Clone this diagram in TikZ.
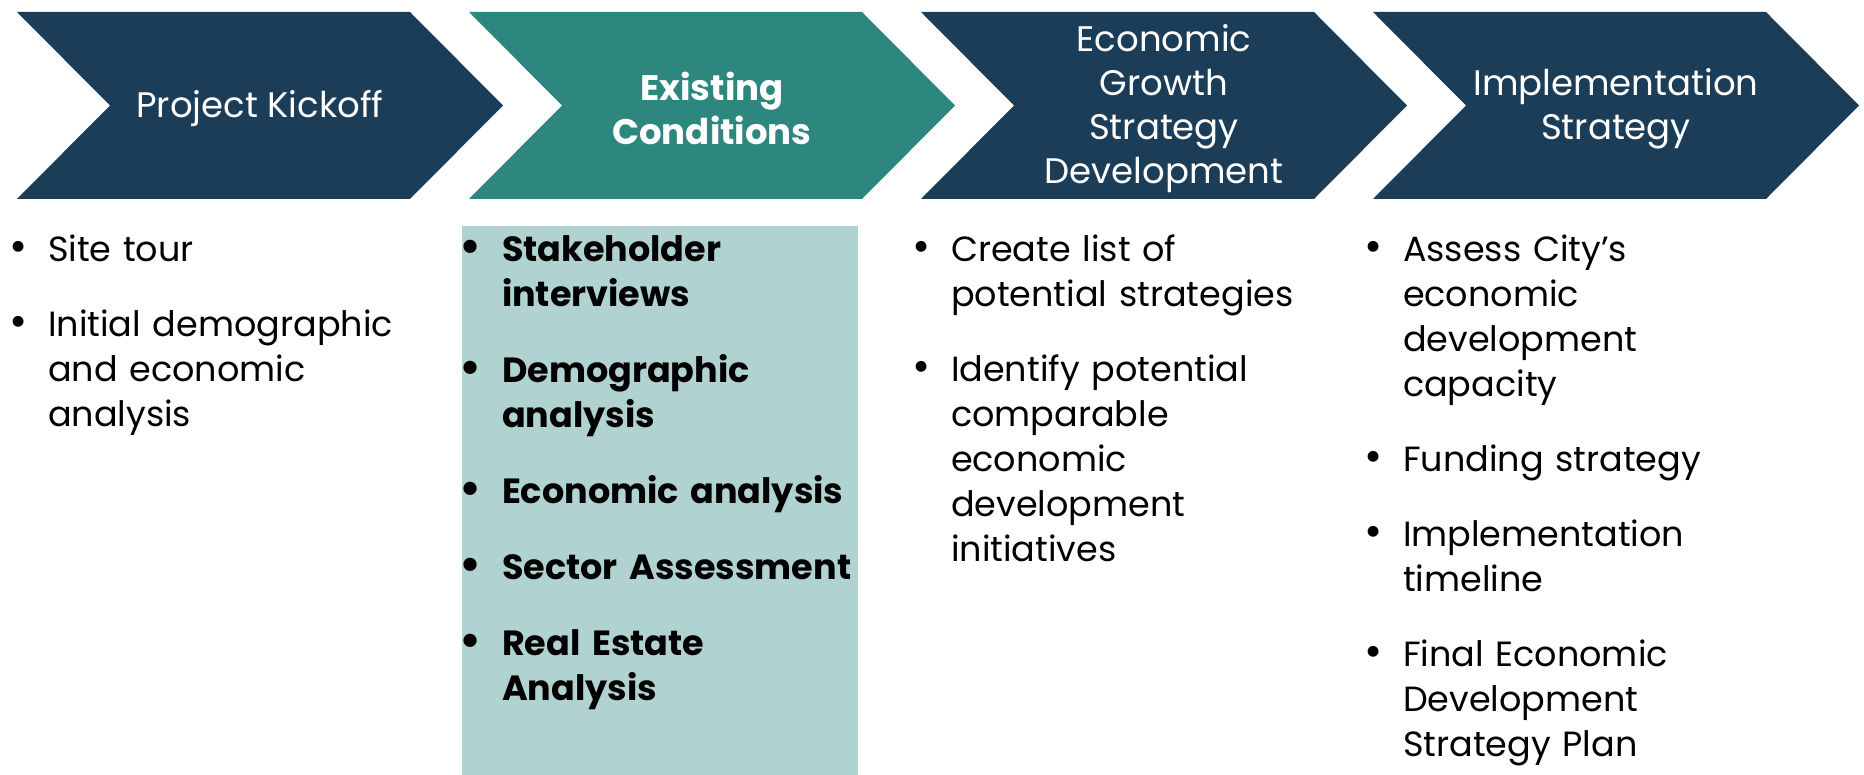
\documentclass[tikz,border=0pt]{standalone}
\usepackage{fontspec}
\setmainfont{Poppins}
\usepackage{xcolor}
\usepackage{tikz}
\usetikzlibrary{positioning}

\definecolor{navy}{HTML}{1C3D57}
\definecolor{phaseteal}{HTML}{2D877E}
\definecolor{paleteal}{HTML}{B0D2D0}

\newcommand{\itembul}{\leavevmode\llap{{\fontsize{44}{45}\selectfont\textbullet}\hspace{20pt}}}

\begin{document}
\begin{tikzpicture}[
        x=1pt, y=1pt,
        every node/.style={inner sep=0pt, outer sep=0pt},
        head/.style={text=white, align=center, font=\fontsize{35.5}{44}\selectfont},
        items/.style={anchor=base west, text width=420pt, align=left, font=\fontsize{35}{45}\selectfont}
    ]
    \useasboundingbox (0,0) rectangle (1864,-775);

    % chevrons
    \fill[navy] (17,-12) -- (410,-12) -- (503,-105.5) -- (410,-199) -- (17,-199) -- (110,-105.5) -- cycle;
    \fill[phaseteal] (469,-12) -- (862,-12) -- (955,-105.5) -- (862,-199) -- (469,-199) -- (562,-105.5) -- cycle;
    \fill[navy] (921,-12) -- (1314,-12) -- (1407,-105.5) -- (1314,-199) -- (921,-199) -- (1014,-105.5) -- cycle;
    \fill[navy] (1373,-12) -- (1766,-12) -- (1859,-105.5) -- (1766,-199) -- (1373,-199) -- (1466,-105.5) -- cycle;

    % highlighted column
    \fill[paleteal] (462,-226) rectangle (858,-775);

    \node[head] (P1) at (260,-108.5) {Project Kickoff};
    \node[head, font=\fontsize{35.5}{44}\selectfont\bfseries] (P2) at (712,-108.5) {Existing\\Conditions};
    \node[head] (P3) at (1164,-108.5) {Economic\\Growth\\Strategy\\Development};
    \node[head] (P4) at (1616,-108.5) {Implementation\\Strategy};

    % 1
    \node[items] (L1) at (48,-262)
        {\itembul Site tour\\[30pt]
         \itembul Initial demographic\\
         and economic\\
         analysis};

    % 2
    \node[items, font=\fontsize{35}{45}\selectfont\bfseries] (L2) at (502,-261.5)
        {\itembul Stakeholder\\
         interviews\\[31pt]
         \itembul Demographic\\
         analysis\\[31pt]
         \itembul Economic analysis\\[31pt]
         \itembul Sector Assessment\\[31pt]
         \itembul Real Estate\\
         Analysis};

    % 3
    \node[items] (L3) at (951,-262)
        {\itembul Create list of\\
         potential strategies\\[30pt]
         \itembul Identify potential\\
         comparable\\
         economic\\
         development\\
         initiatives};

    % 4
    \node[items] (L4) at (1403,-262)
        {\itembul Assess City’s\\
         economic\\
         development\\
         capacity\\[30pt]
         \itembul Funding strategy\\[30pt]
         \itembul Implementation\\
         timeline\\[30pt]
         \itembul Final Economic\\
         Development\\
         Strategy Plan};

\end{tikzpicture}
\end{document}
